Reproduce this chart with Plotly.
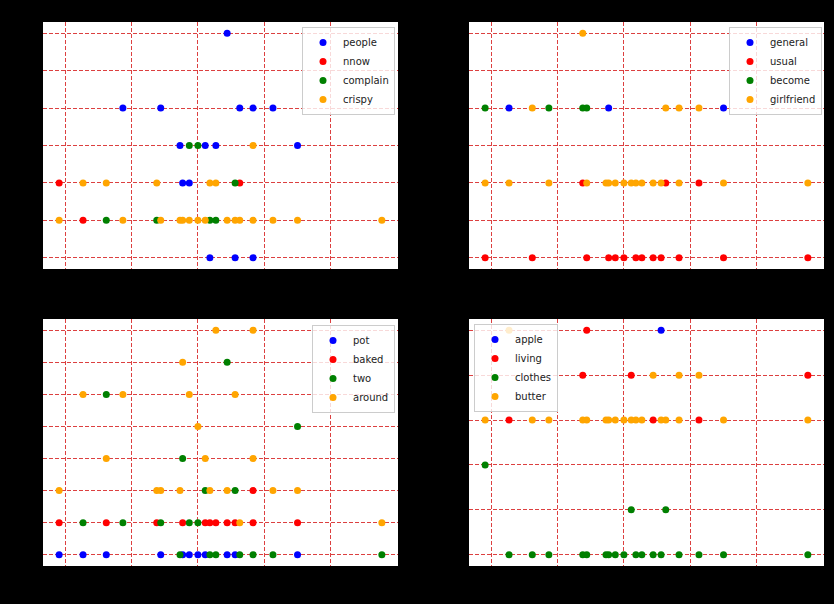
import plotly.graph_objects as go
from plotly.subplots import make_subplots

# ---- data (x positions share one scale, y are integer counts) ----
people_x = [24.4, 8.7, 14.4, 26.3, 28.3, 31.3, 17.3, 21.1, 22.7, 35.0, 17.7, 18.7, 21.8, 25.6, 28.3]
people_y = [6, 4, 4, 4, 4, 4, 3, 3, 3, 3, 2, 2, 0, 0, 0]
nnow_x = [-0.9, 26.3, 2.7]
nnow_y = [2, 2, 1]
complain_x = [18.7, 20.0, 25.6, 6.2, 13.8, 21.8, 22.7]
complain_y = [3, 3, 2, 1, 1, 1, 1]
crispy_x = [28.3, 2.7, 6.2, 13.8, 21.8, 22.7, -0.9, 8.7, 14.4, 17.3, 17.7, 18.7, 20.0, 21.1,
            24.4, 25.6, 26.3, 28.3, 31.3, 35.0, 47.7]
crispy_y = [3, 2, 2, 2, 2, 2] + [1] * 15

general_x = [2.7, 17.7, 35.0]
general_y = [4, 4, 4]
usual_x = [13.8, 26.3, 31.3, -0.9, 6.2, 14.4, 17.7, 18.7, 20.0, 21.8, 22.7, 24.4, 25.6, 28.3, 35.0, 47.7]
usual_y = [2, 2, 2] + [0] * 13
become_x = [-0.9, 8.7, 13.8, 14.4]
become_y = [4, 4, 4, 4]
girlfriend_x = [13.8, 6.2, 26.3, 28.3, 31.3, -0.9, 2.7, 8.7, 14.4, 17.3, 17.7, 18.7, 20.0, 21.1,
                21.8, 22.7, 24.4, 25.6, 28.3, 35.0, 47.7]
girlfriend_y = [6, 4, 4, 4, 4] + [2] * 16

pot_x = [-0.9, 2.7, 6.2, 14.4, 17.7, 18.7, 20.0, 21.1, 24.4, 25.6, 35.0]
pot_y = [0] * 11
baked_x = [28.3, -0.9, 6.2, 13.8, 17.7, 21.1, 21.8, 22.7, 24.4, 25.6, 28.3, 35.0]
baked_y = [2] + [1] * 11
two_x = [24.4, 6.2, 35.0, 17.7, 21.1, 25.6, 2.7, 8.7, 14.4, 18.7, 20.0, 17.3, 21.8, 22.7, 26.3,
         28.3, 31.3, 47.7]
two_y = [6, 5, 4, 3, 2, 2, 1, 1, 1, 1, 1, 0, 0, 0, 0, 0, 0, 0]
around_x = [22.7, 28.3, 17.7, 2.7, 8.7, 18.7, 25.6, 20.0, 6.2, 21.1, 28.3, -0.9, 13.8, 14.4, 17.3,
            21.8, 24.4, 31.3, 35.0, 26.3, 47.7]
around_y = [7, 7, 6, 5, 5, 5, 5, 4, 3, 3, 3, 2, 2, 2, 2, 2, 2, 2, 2, 1, 1]

apple_x = [25.6]
apple_y = [5]
living_x = [14.4, 13.8, 21.1, 47.7, 2.7, 24.4, 31.3]
living_y = [5, 4, 4, 4, 3, 3, 3]
clothes_x = [-0.9, 21.1, 26.3, 2.7, 6.2, 8.7, 13.8, 14.4, 17.3, 17.7, 18.7, 20.0, 21.8, 22.7, 24.4,
             25.6, 28.3, 31.3, 35.0, 47.7]
clothes_y = [2, 1, 1] + [0] * 17
butter_x = [2.7, 24.4, 28.3, 31.3, -0.9, 6.2, 8.7, 13.8, 14.4, 17.3, 17.7, 18.7, 20.0, 21.1, 21.8,
            22.7, 25.6, 26.3, 28.3, 35.0, 47.7]
butter_y = [5, 4, 4, 4] + [3] * 17

x_ticks = [0, 10, 20, 30, 40]

# ---- figure ----
colors = ["blue", "red", "green", "orange"]
panels = [
    (1, 1, "legend", [("people", people_x, people_y), ("nnow", nnow_x, nnow_y),
                      ("complain", complain_x, complain_y), ("crispy", crispy_x, crispy_y)]),
    (1, 2, "legend2", [("general", general_x, general_y), ("usual", usual_x, usual_y),
                       ("become", become_x, become_y), ("girlfriend", girlfriend_x, girlfriend_y)]),
    (2, 1, "legend3", [("pot", pot_x, pot_y), ("baked", baked_x, baked_y),
                       ("two", two_x, two_y), ("around", around_x, around_y)]),
    (2, 2, "legend4", [("apple", apple_x, apple_y), ("living", living_x, living_y),
                       ("clothes", clothes_x, clothes_y), ("butter", butter_x, butter_y)]),
]

fig = make_subplots(rows=2, cols=2)

all_x = []
for _, _, _, series in panels:
    for _, xs, _ in series:
        all_x += xs
xmin, xmax = min(all_x), max(all_x)
xpad = (xmax - xmin) * 0.05

W, H = 834, 604
xdom = {1: [43 / W, 398 / W], 2: [469 / W, 824 / W]}
ydom = {1: [1 - 269 / H, 1 - 22 / H], 2: [1 - 566 / H, 1 - 319 / H]}

grid_col = "rgba(214,30,30,0.85)"
for r, c, leg, series in panels:
    ally = []
    for (name, xs, ys), col in zip(series, colors):
        ally += ys
        fig.add_trace(go.Scatter(x=xs, y=ys, mode="markers", name=name,
                                 marker=dict(color=col, size=7, line=dict(width=0)),
                                 legend=leg), row=r, col=c)
    ymin, ymax = min(ally), max(ally)
    ypad = (ymax - ymin) * 0.05
    fig.update_xaxes(domain=xdom[c], range=[xmin - xpad, xmax + xpad], tickvals=x_ticks,
                     showgrid=True, gridcolor=grid_col, griddash="4px,2px", gridwidth=1,
                     zeroline=False, showline=False, ticks="outside", tickcolor="black",
                     tickfont=dict(color="black"), row=r, col=c)
    fig.update_yaxes(domain=ydom[r], range=[ymin - ypad, ymax + ypad], dtick=1,
                     showgrid=True, gridcolor=grid_col, griddash="4px,2px", gridwidth=1,
                     zeroline=False, showline=False, ticks="outside", tickcolor="black",
                     tickfont=dict(color="black"), row=r, col=c)

leg_style = dict(bgcolor="rgba(255,255,255,0.8)", bordercolor="#cccccc", borderwidth=1,
                 font=dict(family="DejaVu Sans", size=10, color="#222222"),
                 tracegroupgap=0, itemclick=False)
fig.update_layout(
    width=W, height=H,
    paper_bgcolor="black", plot_bgcolor="white",
    margin=dict(l=0, r=0, t=0, b=0),
    font=dict(family="DejaVu Sans", size=10, color="black"),
    legend=dict(x=395 / W, y=1 - 27 / H, xanchor="right", yanchor="top", **leg_style),
    legend2=dict(x=822 / W, y=1 - 27 / H, xanchor="right", yanchor="top", **leg_style),
    legend3=dict(x=395 / W, y=1 - 325 / H, xanchor="right", yanchor="top", **leg_style),
    legend4=dict(x=474 / W, y=1 - 324 / H, xanchor="left", yanchor="top", **leg_style),
)

fig.write_html("out.html", config={"displayModeBar": False},
               post_script="document.body.style.margin='0';document.body.style.background='black';")
